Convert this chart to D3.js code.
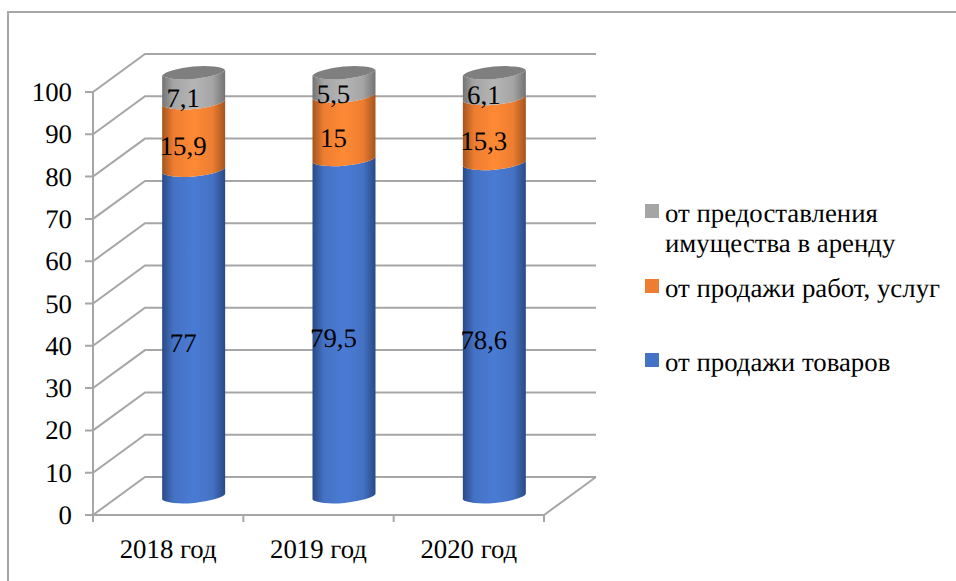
<!DOCTYPE html>
<html><head><meta charset="utf-8">
<script src="https://d3js.org/d3.v7.min.js"></script>
<style>html,body{margin:0;padding:0;background:#fff}svg{display:block}text{font-family:"Liberation Serif",serif;fill:#000;text-rendering:geometricPrecision}</style>
</head><body><svg id="c" width="956" height="581"></svg>
<script>
const categories = ["2018 год","2019 год","2020 год"];
const seriesNames = ["от продажи товаров","от продажи работ, услуг","от предоставления имущества в аренду"];
const goods = [77,79.5,78.6];
const works = [15.9,15,15.3];
const rent = [7.1,5.5,6.1];
const yTicks = [0,10,20,30,40,50,60,70,80,90,100];
const colors = ["#4472c4","#ed7d31","#a5a5a5"];
const lights = ["#4a7bd4","#ff8a35","#b5b5b5"];
const darks = ["#2a4a86","#a4551f","#737373"];
const fmt = v => String(v).replace(".",",");
const W=956,H=581, grid="#a6a6a6", fs=26.8;
const svg=d3.select("#c");
svg.append("path").attr("d",`M8 ${H} V12 H${W}`).attr("fill","none").attr("stroke","#a6a6a6").attr("stroke-width",2);
const dx=52, dyBack=-38;
const yFront=d3.scaleLinear().domain([0,100]).range([515,92]);
const x=d3.scaleBand().domain(categories).range([93,544]);
const g=svg.append("g").attr("fill","none").attr("stroke",grid).attr("stroke-width",2);
yTicks.forEach(t=>{
  const y=yFront(t);
  g.append("path").attr("d",`M85 ${y} H93 L${93+dx} ${y+dyBack} H${544+dx}`);
});
g.append("path").attr("d",`M93 ${yFront(100)} V${yFront(0)} H544 L${544+dx} ${yFront(0)+dyBack}`);
categories.concat(["end"]).forEach(c=>{
  const px=c==="end"?544:x(c);
  g.append("path").attr("d",`M${px} 515 V522`);
});
svg.append("g").selectAll("text").data(yTicks).join("text")
  .attr("x",72).attr("y",d=>yFront(d)+9).attr("text-anchor","end").attr("font-size",fs).text(d=>d);
svg.append("g").selectAll("text").data(categories).join("text")
  .attr("x",d=>x(d)+x.bandwidth()/2).attr("y",558).attr("text-anchor","middle").attr("font-size",fs).text(d=>d);
const defs=svg.append("defs");
colors.forEach((c,i)=>{
  const lg=defs.append("linearGradient").attr("id","g"+i);
  [[0,darks[i]],[.18,c],[.5,lights[i]],[.8,c],[1,darks[i]]].forEach(s=>lg.append("stop").attr("offset",s[0]).attr("stop-color",s[1]));
});
const hw=31.5, rx=32.2, ry=7.6, rot=-5, skew=5.5;
const yCyl=d3.scaleLinear().domain([0,100]).range([499.5,75.5]);
const series=[goods,works,rent];
function ci(c){return categories.indexOf(c);}
categories.forEach(c=>{
  const cx=x(c)+x.bandwidth()/2+25.5;
  const L=cx-hw,R=cx+hw;
  let cum=0;
  series.forEach((s,si)=>{
    const v=s[ci(c)];
    const y0=yCyl(cum),y1=yCyl(cum+v);
    svg.append("path").attr("fill",`url(#g${si})`)
      .attr("d",`M${L} ${y0} A${rx} ${ry} ${rot} 0 0 ${R} ${y0-skew} L${R} ${y1-skew} A${rx} ${ry} ${rot} 0 1 ${L} ${y1} Z`);
    cum+=v;
  });
  const yt=yCyl(cum);
  svg.append("path").attr("fill","#7f7f7f")
    .attr("d",`M${L} ${yt} A${rx} ${ry} ${rot} 0 1 ${R} ${yt-skew} A${rx} ${ry} ${rot} 0 1 ${L} ${yt} Z`);
  cum=0;
  series.forEach(s=>{
    const v=s[ci(c)];
    svg.append("text").attr("x",cx-10.5).attr("y",yCyl(cum+v/2)+16).attr("text-anchor","middle").attr("font-size",fs).text(fmt(v));
    cum+=v;
  });
});
const legend=[
 {i:2,y:204,lines:["от предоставления","имущества в аренду"],ty:[222,252]},
 {i:1,y:279,lines:["от продажи работ, услуг"],ty:[297]},
 {i:0,y:353,lines:["от продажи товаров"],ty:[371]}
];
const lg=svg.append("g");
legend.forEach(l=>{
  lg.append("rect").attr("x",645).attr("y",l.y).attr("width",14).attr("height",14).attr("fill",colors[l.i]);
  l.lines.forEach((t,k)=>lg.append("text").attr("x",665).attr("y",l.ty[k]).attr("font-size",fs).text(t));
});
</script></body></html>
